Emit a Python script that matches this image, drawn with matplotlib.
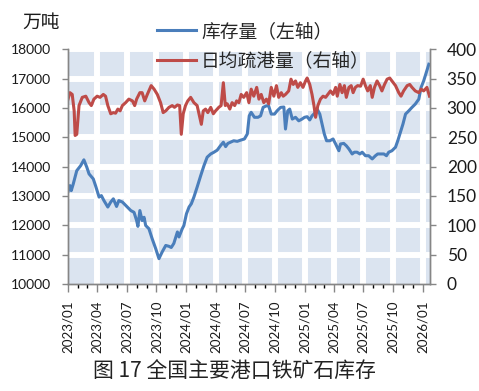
import matplotlib
matplotlib.use('Agg')
import matplotlib.pyplot as plt
import matplotlib.dates as mdates
import pandas as pd

# 库存量（左轴，万吨）
inv_dates = ['2023-01-01', '2023-01-07', '2023-01-11', '2023-01-17', '2023-01-28', '2023-02-09',
             '2023-02-19', '2023-02-28', '2023-03-07', '2023-03-20', '2023-03-27', '2023-04-07',
             '2023-04-14', '2023-04-22', '2023-05-04', '2023-05-13', '2023-05-21', '2023-05-31',
             '2023-06-07', '2023-06-18', '2023-07-03', '2023-07-14', '2023-07-24', '2023-08-01',
             '2023-08-05', '2023-08-11', '2023-08-18', '2023-08-24', '2023-08-29', '2023-09-08',
             '2023-09-18', '2023-09-29', '2023-10-09', '2023-10-19', '2023-10-30', '2023-11-09',
             '2023-11-16', '2023-11-24', '2023-12-05', '2023-12-10', '2023-12-20', '2023-12-25',
             '2024-01-02', '2024-01-10', '2024-01-17', '2024-01-25', '2024-02-04', '2024-02-15',
             '2024-02-25', '2024-03-06', '2024-03-17', '2024-03-27', '2024-04-06', '2024-04-16',
             '2024-04-25', '2024-05-02', '2024-05-09', '2024-05-17', '2024-05-27', '2024-06-07',
             '2024-06-17', '2024-06-29', '2024-07-08', '2024-07-14', '2024-07-20', '2024-07-30',
             '2024-08-10', '2024-08-18', '2024-08-26', '2024-09-05', '2024-09-12', '2024-09-20',
             '2024-09-30', '2024-10-08', '2024-10-19', '2024-10-29', '2024-11-03', '2024-11-10',
             '2024-11-16', '2024-11-24', '2024-12-04', '2024-12-14', '2024-12-24', '2025-01-01',
             '2025-01-09', '2025-01-17', '2025-01-24', '2025-02-04', '2025-02-09', '2025-02-17',
             '2025-02-24', '2025-03-03', '2025-03-10', '2025-03-20', '2025-03-30', '2025-04-07',
             '2025-04-17', '2025-04-22', '2025-05-02', '2025-05-10', '2025-05-18', '2025-05-28',
             '2025-06-04', '2025-06-12', '2025-06-21', '2025-06-28', '2025-07-08', '2025-07-18',
             '2025-07-29', '2025-08-08', '2025-08-15', '2025-08-25', '2025-09-03', '2025-09-11',
             '2025-09-18', '2025-09-28', '2025-10-09', '2025-10-16', '2025-10-24', '2025-11-01',
             '2025-11-09', '2025-11-19', '2025-11-29', '2025-12-09', '2025-12-20', '2025-12-27',
             '2026-01-04', '2026-01-12', '2026-01-20']
inv_values = [13150, 13350, 13180, 13400, 13860, 14030, 14230, 13980, 13750, 13580, 13350, 12960,
              13010, 12840, 12620, 12790, 12900, 12640, 12840, 12790, 12620, 12500, 12440, 12160,
              11960, 12500, 12160, 12270, 11990, 11880, 11540, 11200, 10860, 11090, 11310, 11280,
              11240, 11380, 11770, 11600, 11880, 11990,
              12390, 12620, 12730, 12960, 13300, 13690, 14030, 14320, 14430, 14490, 14560, 14710,
              14830, 14680, 14790, 14830, 14880, 14860, 14900, 14940, 15110, 15730, 15850, 15680,
              15680, 15730, 16020, 16070, 16070, 15790, 15790, 15900, 16020, 16030, 15280, 15900,
              15960, 15620, 15680, 15560, 15620, 15680,
              15700, 15590, 15730, 15850, 15960, 15790, 15450, 15110, 14880, 14880, 14940, 14770,
              14540, 14770, 14790, 14710, 14600, 14430, 14490, 14490, 14430, 14490, 14370, 14370,
              14260, 14370, 14430, 14430, 14430, 14370, 14490, 14540, 14660, 14880, 15170, 15450,
              15790, 15900, 16020, 16130, 16300, 16700, 16920, 17210, 17490]

# 日均疏港量（右轴，万吨）
cl_dates = ['2023-01-01', '2023-01-07', '2023-01-14', '2023-01-20', '2023-01-23', '2023-01-28',
            '2023-02-04', '2023-02-14', '2023-02-25', '2023-03-07', '2023-03-14', '2023-03-22',
            '2023-04-01', '2023-04-10', '2023-04-20', '2023-04-27', '2023-05-04', '2023-05-13',
            '2023-05-21', '2023-05-28', '2023-06-04', '2023-06-11', '2023-06-18', '2023-06-28',
            '2023-07-08', '2023-07-19', '2023-07-26', '2023-08-01', '2023-08-11', '2023-08-18',
            '2023-08-26', '2023-09-03', '2023-09-15', '2023-09-24', '2023-10-04', '2023-10-14',
            '2023-10-22', '2023-10-30', '2023-11-09', '2023-11-19', '2023-11-26', '2023-12-05',
            '2023-12-12', '2023-12-17', '2023-12-23', '2023-12-30',
            '2024-01-06', '2024-01-15', '2024-01-25', '2024-02-04', '2024-02-17', '2024-02-23',
            '2024-03-01', '2024-03-08', '2024-03-17', '2024-03-25', '2024-04-01', '2024-04-11',
            '2024-04-18', '2024-04-25', '2024-05-01', '2024-05-07', '2024-05-15', '2024-05-22',
            '2024-05-30', '2024-06-05', '2024-06-12', '2024-06-19', '2024-06-27', '2024-07-06',
            '2024-07-13', '2024-07-20', '2024-07-28', '2024-08-06', '2024-08-13', '2024-08-20',
            '2024-08-28', '2024-09-05', '2024-09-12', '2024-09-20', '2024-09-28', '2024-10-06',
            '2024-10-13', '2024-10-21', '2024-10-27', '2024-11-03', '2024-11-13', '2024-11-20',
            '2024-11-27', '2024-12-04', '2024-12-11', '2024-12-19', '2024-12-27',
            '2025-01-04', '2025-01-09', '2025-01-17', '2025-01-24', '2025-01-30', '2025-02-04',
            '2025-02-11', '2025-02-19', '2025-02-27', '2025-03-07', '2025-03-14', '2025-03-22',
            '2025-03-30', '2025-04-07', '2025-04-12', '2025-04-20', '2025-04-27', '2025-05-04',
            '2025-05-10', '2025-05-18', '2025-05-25', '2025-05-31', '2025-06-07', '2025-06-14',
            '2025-06-23', '2025-07-01', '2025-07-08', '2025-07-15', '2025-07-23', '2025-07-29',
            '2025-08-05', '2025-08-13', '2025-08-21', '2025-08-28', '2025-09-05', '2025-09-13',
            '2025-09-21', '2025-09-28', '2025-10-09', '2025-10-19', '2025-10-26', '2025-11-03',
            '2025-11-14', '2025-11-22', '2025-11-29', '2025-12-09', '2025-12-20', '2025-12-27',
            '2026-01-04', '2026-01-14', '2026-01-22']
cl_values = [315, 326, 323, 295, 253, 255, 304, 318, 320, 309, 304, 315,
             320, 318, 323, 320, 304, 290, 292, 291, 298, 295, 304, 309,
             315, 312, 304, 315, 326, 326, 312, 323, 338, 332, 323, 309,
             292, 295, 301, 304, 301, 305, 304, 255, 290, 304,
             312, 318, 309, 304, 272, 295, 298, 292, 301, 290, 295, 301,
             304, 343, 304, 307, 298, 309, 304, 312, 309, 323, 318, 326,
             309, 332, 320, 335, 315, 323, 309, 315, 307, 335, 320, 338,
             318, 326, 320, 323, 329, 349, 340, 346, 335, 343, 335,
             346, 351, 340, 323, 304, 284, 304, 315, 320, 318, 323, 329,
             323, 335, 320, 340, 326, 338, 318, 335, 338, 326, 335, 338,
             337, 349, 338, 329, 338, 318, 335, 346, 338, 329, 340, 349,
             351, 346, 338, 326, 320, 329, 338, 340, 335, 329, 326, 332,
             329, 335, 320]

left_ticks = [10000, 11000, 12000, 13000, 14000, 15000, 16000, 17000, 18000]
right_ticks = [0, 50, 100, 150, 200, 250, 300, 350, 400]
x_start, x_end = '2023-01-01', '2026-01-24'

blue = '#4a7ebb'
red = '#be4b48'
axis_gray = '#868686'
cjk = ['Noto Sans CJK SC', 'DejaVu Sans']

fig = plt.figure(figsize=(4.79, 3.91), dpi=100)
ax = fig.add_axes([0.142, 0.274, 0.756, 0.600])
ax.set_facecolor('#dbe4f0')

inv_x = pd.to_datetime(inv_dates)
cl_x = pd.to_datetime(cl_dates)

# white grid bands (skip those on the spines)
quarters = pd.date_range('2023-04-01', '2026-01-01', freq='QS')
for q in quarters:
    ax.axvline(q, color='white', lw=4.3, zorder=0.5)
for v in left_ticks[1:]:
    ax.axhline(v, color='white', lw=4.3, zorder=0.5)

l1, = ax.plot(inv_x, inv_values, color=blue, lw=2.2, zorder=2)
ax.set_ylim(left_ticks[0], left_ticks[-1])
ax.set_yticks(left_ticks)
ax.set_xlim(pd.Timestamp(x_start), pd.Timestamp(x_end))

ax.xaxis.set_major_locator(mdates.MonthLocator(bymonth=[1, 4, 7, 10]))
ax.xaxis.set_minor_locator(mdates.MonthLocator())
ax.xaxis.set_major_formatter(mdates.DateFormatter('%Y/%m'))

ax2 = ax.twinx()
l2, = ax2.plot(cl_x, cl_values, color=red, lw=2.2, zorder=2)
ax2.set_ylim(right_ticks[0], right_ticks[-1])
ax2.set_yticks(right_ticks)

for a in (ax, ax2):
    a.spines['top'].set_visible(False)
    for s in ('left', 'right', 'bottom'):
        a.spines[s].set_color(axis_gray)
        a.spines[s].set_linewidth(1.0)
    a.tick_params(colors=axis_gray, labelcolor='#1a1a1a')

ax.tick_params(axis='y', length=4, width=1, pad=8, labelsize=10)
ax.tick_params(axis='x', which='major', length=6, width=1, pad=6, labelsize=9.6, labelrotation=90)
ax.tick_params(axis='x', which='minor', length=3, width=1)
ax2.tick_params(axis='y', length=4, width=1, pad=8, labelsize=12.5)
for lab in ax.get_xticklabels() + ax.get_yticklabels() + ax2.get_yticklabels():
    lab.set_fontfamily('Lato')

fig.text(0.086, 0.944, '万吨', fontsize=13.5, family=cjk, color='#1a1a1a', ha='center', va='center')

fig.legend([l1, l2], ['库存量（左轴）', '日均疏港量（右轴）'], loc='center left',
           bbox_to_anchor=(0.328, 0.882), frameon=False, handlelength=2.1, handletextpad=0.25,
           labelspacing=0.45, borderpad=0, borderaxespad=0,
           prop={'family': cjk, 'size': 13.5, 'weight': 'light'}, labelcolor='#262626')

fig.text(0.49, 0.048, '图 17 全国主要港口铁矿石库存', fontsize=15, family=cjk, weight='light',
         color='#222222', ha='center', va='center')

fig.savefig('out.png', dpi=100)
